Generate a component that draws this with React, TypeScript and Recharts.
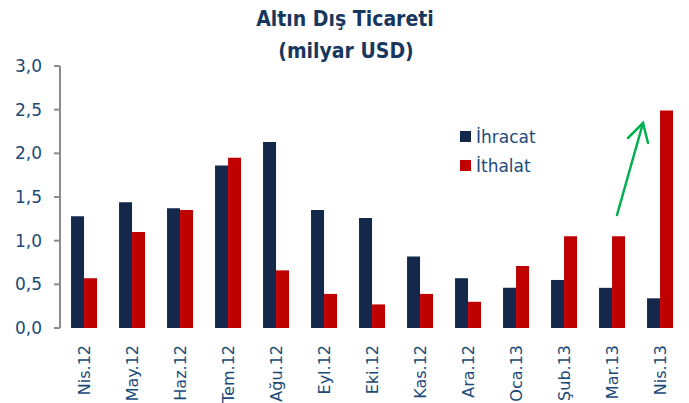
import { BarChart, Bar, XAxis, YAxis } from 'recharts'

const months = ['Nis.12', 'May.12', 'Haz.12', 'Tem.12', 'Ağu.12', 'Eyl.12', 'Eki.12', 'Kas.12', 'Ara.12', 'Oca.13', 'Şub.13', 'Mar.13', 'Nis.13']
const ihracat = [1.28, 1.44, 1.37, 1.86, 2.13, 1.35, 1.26, 0.82, 0.57, 0.46, 0.55, 0.46, 0.34]
const ithalat = [0.57, 1.1, 1.35, 1.95, 0.66, 0.39, 0.27, 0.39, 0.3, 0.71, 1.05, 1.05, 2.49]
const yTicks = [0, 0.5, 1, 1.5, 2, 2.5, 3]
const boundaryTicks = months.map((_, i) => i).concat(months.length)

const data = months.map((m, i) => ({ month: m, ihracat: ihracat[i], ithalat: ithalat[i] }))

const NAVY = '#13284A'
const RED = '#C00000'
const TEXT = '#1B4A78'
const FONT = "'DejaVu Sans', Verdana, sans-serif"

function MonthTick({ x, y, payload }: any) {
  return (
    <g transform={`translate(${x},${y + 15})`}>
      <text transform="rotate(-90)" textAnchor="end" dy="0.36em" fill={TEXT} fontSize={16} fontFamily={FONT}>
        {payload.value}
      </text>
    </g>
  )
}

function LegendBox() {
  const items = [
    { label: 'İhracat', color: NAVY },
    { label: 'İthalat', color: RED },
  ]
  return (
    <div style={{ position: 'absolute', left: 460, top: 122, fontFamily: FONT, fontSize: 17, color: TEXT }}>
      {items.map((it) => (
        <div key={it.label} style={{ display: 'flex', alignItems: 'center', height: 29 }}>
          <span style={{ width: 11, height: 11, background: it.color, marginRight: 5, display: 'inline-block' }} />
          <span>{it.label}</span>
        </div>
      ))}
    </div>
  )
}

export default function App() {
  return (
    <div style={{ position: 'absolute', left: 0, top: 0, width: 689, height: 403, background: '#fff' }}>
      <BarChart
        width={689}
        height={403}
        data={data}
        margin={{ top: 66, right: 5, left: 0, bottom: 0 }}
        barCategoryGap="23%"
        barGap={0}
      >
        <XAxis
          xAxisId="edges"
          type="number"
          domain={[0, months.length]}
          ticks={boundaryTicks}
          tickFormatter={() => ''}
          height={0}
          stroke="#8C8C8C"
          strokeWidth={2}
          tickSize={5}
          allowDataOverflow
        />
        <XAxis
          xAxisId="cat"
          dataKey="month"
          height={75}
          axisLine={false}
          tickLine={false}
          tickSize={0}
          interval={0}
          tick={<MonthTick />}
        />
        <YAxis
          width={60}
          domain={[0, 3]}
          ticks={yTicks}
          tickFormatter={(v: number) => v.toFixed(1).replace('.', ',')}
          stroke="#8C8C8C"
          strokeWidth={2}
          tickSize={6}
          tickMargin={12}
          tick={{ fill: TEXT, fontSize: 17, fontFamily: FONT }}
        />
        <Bar xAxisId="cat" dataKey="ihracat" name="İhracat" fill={NAVY} isAnimationActive={false} />
        <Bar xAxisId="cat" dataKey="ithalat" name="İthalat" fill={RED} isAnimationActive={false} />
      </BarChart>
      <LegendBox />
      <svg width={689} height={403} style={{ position: 'absolute', left: 0, top: 0, pointerEvents: 'none' }}>
        <g fontFamily="'DejaVu Sans Condensed', 'DejaVu Sans', sans-serif" fontWeight="bold" fontSize={21} fill="#17375E" textAnchor="middle" style={{ fontStretch: 'condensed' }}>
          <text x={345} y={26}>Altın Dış Ticareti</text>
          <text x={346} y={58}>(milyar USD)</text>
        </g>
        <g stroke="#00B050" strokeWidth={2.5} fill="none" strokeLinecap="round">
          <line x1={617} y1={215} x2={643} y2={123} />
          <polyline points="628,138 643,123 648,143" />
        </g>
      </svg>
    </div>
  )
}
